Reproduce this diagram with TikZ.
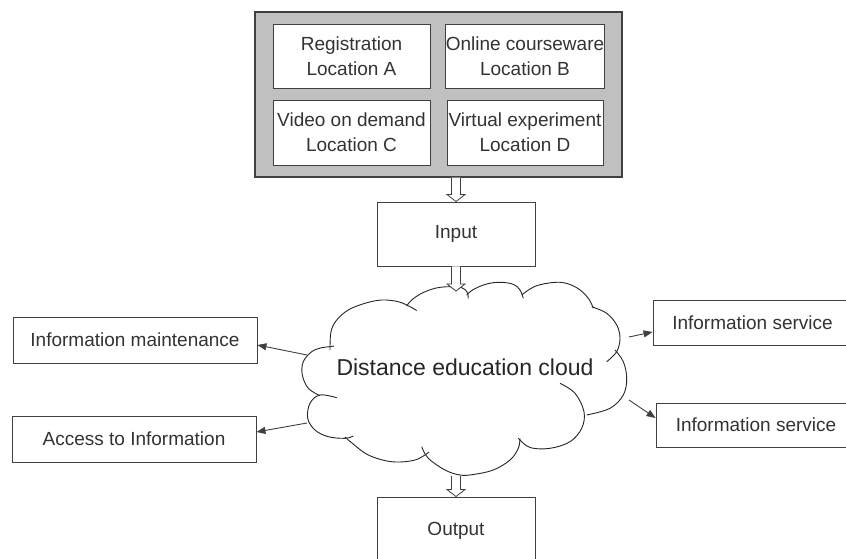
\documentclass[tikz,border=0pt]{standalone}
\usepackage{fontspec}
\setmainfont{Liberation Sans}
\usetikzlibrary{arrows.meta,calc}
\definecolor{boxgray}{HTML}{C0C0C0}
\definecolor{txt}{HTML}{333333}
\definecolor{edge}{HTML}{404040}
\tikzset{
  box/.style={draw=edge, line width=0.9pt, fill=white, rectangle, inner sep=0pt, text=txt,
    font=\fontsize{19}{25}\selectfont, align=center},
  outerbox/.style={draw=edge, line width=1.4pt, fill=boxgray, rectangle, inner sep=0pt,
    minimum width=367pt, minimum height=165pt},
  conn/.style={draw=edge, line width=0.9pt, -{Triangle[length=9pt,width=7pt]}},
  harrow/.style={draw=edge, line width=0.8pt, fill=white},
  puff/.style={draw=black!85, line width=0.9pt, smooth, tension=0.6},
}
\newcommand\hollowarr[2]{%
  \draw[harrow] let \p1=(#1), \p2=(#2) in
    (\x2-4.5pt,\y1) -- (\x2-4.5pt,\y2+7pt) -- (\x2-9pt,\y2+7pt) -- (\x2,\y2)
    -- (\x2+9pt,\y2+7pt) -- (\x2+4.5pt,\y2+7pt) -- (\x2+4.5pt,\y1);}
\begin{document}
\begin{tikzpicture}[x=1pt,y=-1pt]
\clip (0,0) rectangle (846,559);
\fill[white] (0,0) rectangle (846,559);

% top block
\node[outerbox] (outer) at (438.5,94.5) {};
\node[box, minimum width=157pt, minimum height=64pt] (regA) at (351.5,56) {Registration\\Location A};
\node[box, minimum width=156pt, minimum height=64pt] (onlB) at (525,56) {Online courseware\\Location B};
\node[box, minimum width=157pt, minimum height=65pt] (vidC) at (351.5,132.5) {Video on demand\\Location C};
\node[box, minimum width=156pt, minimum height=65pt] (virD) at (525,132.5) {Virtual experiment\\Location D};

% input / output
\node[box, minimum width=158pt, minimum height=64pt] (input) at (456,234) {Input};
\node[box, minimum width=158pt, minimum height=68pt] (output) at (456,531) {Output};

% cloud (drawn puff by puff)
\draw[puff] plot coordinates {(330,350) (331,331.7) (336.7,320) (348.3,310) (365,303.3) (381.7,300) (398.3,301.7) (410,306.7) (416.7,310.5)};
\draw[puff] plot coordinates {(406.7,306) (411.7,300) (421.7,293.3) (435,288.3) (448.3,286.7) (461.7,287.7) (467,292) (468.3,298.3)};
\draw[puff] plot coordinates {(466.7,295) (473.3,289.5) (486.7,284) (500,282.3) (513.3,284.3) (520,290) (523.3,298.3)};
\draw[puff] plot coordinates {(521.7,295) (536.7,285.7) (560,282.3) (576.7,287.7) (588.3,298.3) (593.3,308.3)};
\draw[puff] plot coordinates {(591.7,306.7) (606.7,313.3) (616.7,325) (620,338.3) (616.7,351.7) (606.7,361.7)};
\draw[puff] plot coordinates {(615,350) (623.3,361.7) (626.7,378.3) (623.3,395) (610,408.3) (586.7,415)};
\draw[puff] plot coordinates {(560,383.3) (575,393.3) (584,411.7) (581.7,428.3) (570,441.7) (550,448.3) (530,447.5) (518.3,438.3)};
\draw[puff] plot coordinates {(520,438.3) (518.3,448.3) (510,460) (493.3,470) (473.3,474.5) (460,475) (445,470) (428.3,458.3) (421.7,446.7)};
\draw[puff] plot coordinates {(345,437) (352,443) (368.3,455) (391.7,461.7) (415,460) (429,452)};
\draw[puff] plot coordinates {(336.7,397.7) (320,395) (310,403.3) (307.7,418.3) (315,430) (328.3,436.7) (345,438.3) (353.3,436)};
\draw[puff] plot coordinates {(320,395.7) (308.3,388.3) (302.3,375) (303.3,361.7) (311.7,351.7) (321.7,347.7) (330,346.7) (334,346)};
\node[font=\fontsize{23}{27}\selectfont, text=black!85] (cloudtxt) at (465,367) {Distance education cloud};

% side boxes
\node[box, minimum width=244pt, minimum height=46pt] (maint) at (135,340) {Information maintenance};
\node[box, minimum width=244pt, minimum height=46pt] (access) at (134,439) {Access to Information};
\node[box, minimum width=199pt, minimum height=45pt] (serv1) at (752.5,322.5) {Information service};
\node[box, minimum width=200pt, minimum height=44pt] (serv2) at (756,425) {Information service};

% connector end points on the cloud
\coordinate (cin) at (456,291);
\coordinate (cout) at (456,476);
\coordinate (cl1) at (307,355);
\coordinate (cl2) at (307,423);
\coordinate (cr1) at (629,337);
\coordinate (cr2) at (629,400);

% hollow arrows
\hollowarr{outer.south}{input.north}
\hollowarr{input.south}{cin}
\hollowarr{cout}{output.north}

% thin arrows
\draw[conn] (cl1) -- ([yshift=-5pt]maint.east);
\draw[conn] (cl2) -- ([yshift=7pt]access.east);
\draw[conn] (cr1) -- ([yshift=-9.5pt]serv1.west);
\draw[conn] (cr2) -- ([yshift=7pt]serv2.west);
\end{tikzpicture}
\end{document}
